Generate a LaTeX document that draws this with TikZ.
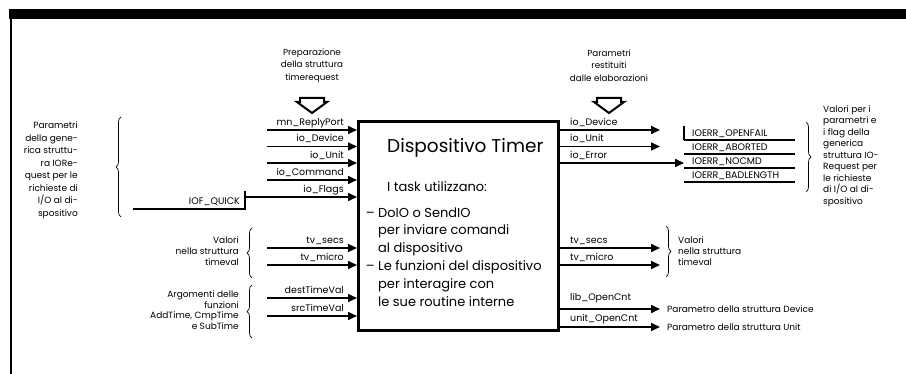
\documentclass[tikz,border=0pt]{standalone}
\usepackage{fontspec}
\setmainfont{Poppins}
\usetikzlibrary{arrows.meta,decorations.pathreplacing,calc}
\newcommand\smf{\fontsize{9.5}{12.5}\selectfont}
\newcommand\pmf{\fontsize{9}{12.5}\selectfont}
\begin{document}
\begin{tikzpicture}[x=1pt,y=-1pt,
  lab/.style={font=\smf, inner sep=0pt},
  par/.style={font=\pmf, inner sep=0pt},
  ln/.style={line width=1.6pt},
  arr/.style={line width=1.6pt,-{Triangle[length=9pt,width=8pt]}},
  brc/.style={line width=0.7pt,decorate,decoration={brace,amplitude=5pt}},
  hollow/.style={line width=2pt,fill=white,line join=miter},
]
\useasboundingbox (0,0) rectangle (906,374);
% frame
\fill (9,9) rectangle (906,19);
\draw[line width=2.5pt] (11,18) -- (11,374);

% headers
\node[par, align=center, font=\fontsize{8.8}{12.5}\selectfont] (hdrL) at (312,65.5) {Preparazione\\della struttura\\timerequest};
\node[par, align=center, font=\fontsize{8.8}{12.5}\selectfont] (hdrR) at (609,65.5) {Parametri\\restituiti\\dalle elaborazioni};
\draw[hollow] (300,98) -- (324,98) -- (324,102) -- (327,102) -- (312,113) -- (297,102) -- (300,102) -- cycle;
\draw[hollow] (597,98) -- (621,98) -- (621,102) -- (624,102) -- (609,113) -- (594,102) -- (597,102) -- cycle;

% main box
\node[draw, line width=3pt, minimum width=200pt, minimum height=209pt, inner sep=0pt] (box) at (458.5,226) {};
\node[inner sep=0pt, anchor=west, font=\fontsize{18.5}{20}\selectfont] (title) at (387,148) {Dispositivo Timer};
\node[inner sep=0pt, anchor=west, font=\fontsize{13}{17.9}\selectfont] (task) at (387,187) {I task utilizzano:};
\node[inner sep=0pt, anchor=west, align=left, font=\fontsize{13}{17.9}\selectfont] (items) at (378,257) {\llap{– }DoIO o SendIO\\per inviare comandi\\al dispositivo\\\llap{– }Le funzioni del dispositivo\\per interagire con\\le sue routine interne};

% left inputs
\foreach \n/\y/\t in {1/130/mn\_ReplyPort,2/146.5/io\_Device,3/163/io\_Unit,4/180/io\_Command}{
  \coordinate (ls\n) at (267,\y);
  \node[lab, anchor=base east] (ll\n) at (344,\y-4.5) {\t};
  \draw[arr] (ls\n) -- (ls\n -| box.west);
}
\coordinate (ls5) at (245,197);
\node[lab, anchor=base east] (ll5) at (344,192.5) {io\_Flags};
\draw[arr] (ls5) -- (ls5 -| box.west);
\coordinate (qk1) at (245,191);
\coordinate (qk2) at (245,209);
\coordinate (qk3) at (133,209);
\node[lab, anchor=base east] (iofq) at (240,205) {IOF\_QUICK};
\draw[ln] (qk3) -- (qk2) -- (qk1);

\node[par, anchor=east, align=right] (pL) at (78,170) {Parametri\\della gene-\\rica struttu-\\ra IORe-\\quest per le\\richieste di\\I/O al di-\\spositivo};
\coordinate (bL1) at (121,217); \coordinate (bL2) at (121,117);
\draw[brc] (bL1) -- (bL2);

% left lower
\foreach \n/\y/\t in {6/248/tv\_secs,7/265/tv\_micro,8/298/destTimeVal,9/316/srcTimeVal}{
  \coordinate (ls\n) at (267,\y);
  \node[lab, anchor=base east] (ll\n) at (344,\y-4.5) {\t};
  \draw[arr] (ls\n) -- (ls\n -| box.west);
}
\node[par, anchor=east, align=right, font=\fontsize{9}{11}\selectfont] (pTV) at (239,251) {Valori\\nella struttura\\timeval};
\coordinate (bT1) at (252,278); \coordinate (bT2) at (252,228);
\draw[brc] (bT1) -- (bT2);
\node[par, anchor=east, align=right, font=\fontsize{9}{10.5}\selectfont] (pAR) at (239,310) {Argomenti delle\\funzioni\\AddTime, CmpTime\\e SubTime};
\coordinate (bA1) at (252,338); \coordinate (bA2) at (252,285);
\draw[brc] (bA1) -- (bA2);

% right outputs
\foreach \n/\y/\t in {1/130/io\_Device,2/146.5/io\_Unit,6/248/tv\_secs,7/265/tv\_micro}{
  \coordinate (re\n) at (660,\y);
  \node[lab, anchor=base west] (rl\n) at (570,\y-4.5) {\t};
  \draw[arr] (re\n -| box.east) -- (re\n);
}
\coordinate (re3) at (684,163);
\node[lab, anchor=base west] (rl3) at (570,158.5) {io\_Error};
\draw[arr] (re3 -| box.east) -- (re3);

% IOERR stack
\foreach \n/\y/\t in {1/140/IOERR\_OPENFAIL,2/154/IOERR\_ABORTED,3/168/IOERR\_NOCMD,4/182/IOERR\_BADLENGTH}{
  \coordinate (ea\n) at (684,\y);
  \coordinate (eb\n) at (795,\y);
  \node[lab, anchor=base west] (er\n) at (692,\y-3.5) {\t};
  \draw[ln] (ea\n) -- (eb\n);
}
\coordinate (ev) at (684,126);
\draw[ln] (ev) -- (ea1);
\coordinate (bR1) at (806,122); \coordinate (bR2) at (806,192);
\draw[brc] (bR1) -- (bR2);
\node[par, anchor=west, align=left, font=\fontsize{9}{11.5}\selectfont] (pR) at (823,156) {Valori per i\\parametri e\\i flag della\\generica\\struttura IO-\\Request per\\le richieste\\di I/O al di-\\spositivo};

% right lower
\coordinate (bV1) at (666,226); \coordinate (bV2) at (666,277);
\draw[brc] (bV1) -- (bV2);
\node[par, anchor=west, align=left, font=\fontsize{9}{11}\selectfont] (pRV) at (678,251) {Valori\\nella struttura\\timeval};

\coordinate (re8) at (660,309);
\node[lab, anchor=base west] (rl8) at (570,300.5) {lib\_OpenCnt};
\draw[arr] (re8 -| box.east) -- (re8);
\node[par, anchor=west] (pDev) at (667,309) {Parametro della struttura Device};
\coordinate (re9) at (660,327);
\node[lab, anchor=base west] (rl9) at (570,321.5) {unit\_OpenCnt};
\draw[arr] (re9 -| box.east) -- (re9);
\node[par, anchor=west] (pUnit) at (667,327) {Parametro della struttura Unit};
\end{tikzpicture}
\end{document}
